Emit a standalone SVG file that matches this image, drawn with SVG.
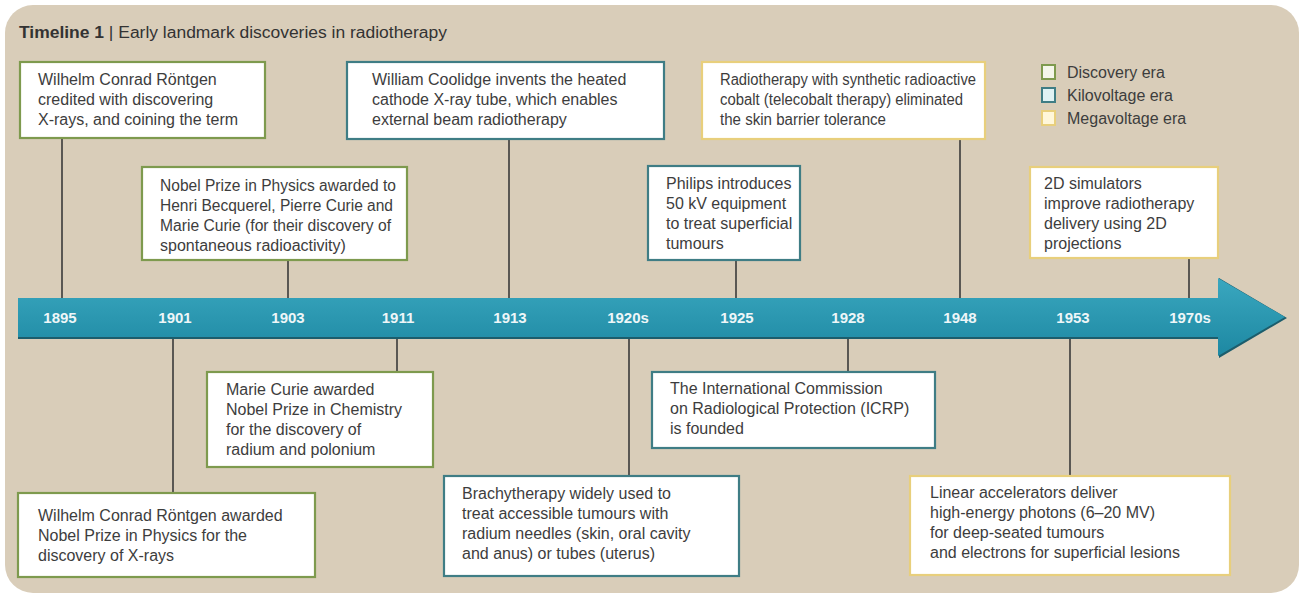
<svg xmlns="http://www.w3.org/2000/svg" width="1301" height="597" viewBox="0 0 1301 597">
<defs>
<style>
.box{fill:#ffffff;stroke-width:2.2}
.g{stroke:#7e9a4e}
.t{stroke:#3f7d85}
.y{stroke:#e8cf7c}
.tx{font-family:"Liberation Sans",Arial,sans-serif;font-size:16px;fill:#3d3d3d}
.yr{font-family:"Liberation Sans",Arial,sans-serif;font-size:15px;font-weight:bold;fill:#eef6f8;text-anchor:middle}
.ln{stroke:#3a3a3a;stroke-width:1.6;fill:none}
</style>
<linearGradient id="bar" x1="0" y1="0" x2="0" y2="1">
<stop offset="0" stop-color="#3aa7bf"/>
<stop offset="1" stop-color="#1d88a2"/>
</linearGradient>
</defs>
<rect x="0" y="0" width="1301" height="597" fill="#ffffff"/>
<rect x="5" y="5" width="1294" height="588" rx="28" ry="28" fill="#d9cdb9"/>
<text x="19" y="38" font-family="Liberation Sans,Arial,sans-serif" font-size="16" fill="#333" textLength="428" lengthAdjust="spacingAndGlyphs"><tspan font-weight="bold">Timeline 1</tspan> | Early landmark discoveries in radiotherapy</text>

<g id="connectors">
<line class="ln" x1="62" y1="138" x2="62" y2="300"/>
<line class="ln" x1="288" y1="260" x2="288" y2="300"/>
<line class="ln" x1="509" y1="139" x2="509" y2="300"/>
<line class="ln" x1="736" y1="260" x2="736" y2="300"/>
<line class="ln" x1="960" y1="139" x2="960" y2="300"/>
<line class="ln" x1="1189" y1="258" x2="1189" y2="300"/>
<line class="ln" x1="173" y1="338" x2="173" y2="493"/>
<line class="ln" x1="397" y1="338" x2="397" y2="372"/>
<line class="ln" x1="629" y1="338" x2="629" y2="476"/>
<line class="ln" x1="848" y1="338" x2="848" y2="372"/>
<line class="ln" x1="1070" y1="338" x2="1070" y2="476"/>
</g>

<g id="timeline">
<path d="M18 299 H1219 V278 L1287 318 L1219 358 V339 H18 Z" fill="#1c5d6c"/>
<path d="M18 298 H1218 V278 L1285 317 L1218 356 V337 H18 Z" fill="url(#bar)"/>
<text class="yr" x="60" y="323">1895</text>
<text class="yr" x="175" y="323">1901</text>
<text class="yr" x="288" y="323">1903</text>
<text class="yr" x="398" y="323">1911</text>
<text class="yr" x="510" y="323">1913</text>
<text class="yr" x="628" y="323">1920s</text>
<text class="yr" x="737" y="323">1925</text>
<text class="yr" x="848" y="323">1928</text>
<text class="yr" x="960" y="323">1948</text>
<text class="yr" x="1073" y="323">1953</text>
<text class="yr" x="1190" y="323">1970s</text>
</g>

<g id="n1895">
<rect class="box g" x="20" y="62" width="245" height="76"/>
<text class="tx" x="38" y="85">Wilhelm Conrad Röntgen</text>
<text class="tx" x="38" y="105">credited with discovering</text>
<text class="tx" x="38" y="125">X-rays, and coining the term</text>
</g>
<g id="n1903">
<rect class="box g" x="142" y="167" width="265" height="93"/>
<text class="tx" x="160" y="191" textLength="236" lengthAdjust="spacingAndGlyphs">Nobel Prize in Physics awarded to</text>
<text class="tx" x="160" y="211" textLength="233" lengthAdjust="spacingAndGlyphs">Henri Becquerel, Pierre Curie and</text>
<text class="tx" x="160" y="231" textLength="231" lengthAdjust="spacingAndGlyphs">Marie Curie (for their discovery of</text>
<text class="tx" x="160" y="251">spontaneous radioactivity)</text>
</g>
<g id="n1913">
<rect class="box t" x="347" y="62" width="317" height="77"/>
<text class="tx" x="372" y="85">William Coolidge invents the heated</text>
<text class="tx" x="372" y="105">cathode X-ray tube, which enables</text>
<text class="tx" x="372" y="125">external beam radiotherapy</text>
</g>
<g id="n1948">
<rect class="box y" x="702" y="62" width="283" height="77"/>
<text class="tx" x="720" y="85" textLength="256" lengthAdjust="spacingAndGlyphs">Radiotherapy with synthetic radioactive</text>
<text class="tx" x="720" y="105" textLength="243" lengthAdjust="spacingAndGlyphs">cobalt (telecobalt therapy) eliminated</text>
<text class="tx" x="720" y="125" textLength="166" lengthAdjust="spacingAndGlyphs">the skin barrier tolerance</text>
</g>
<g id="n1925">
<rect class="box t" x="648" y="166" width="152" height="94"/>
<text class="tx" x="666" y="189">Philips introduces</text>
<text class="tx" x="666" y="209">50 kV equipment</text>
<text class="tx" x="666" y="229">to treat superficial</text>
<text class="tx" x="666" y="249">tumours</text>
</g>
<g id="n1970s">
<rect class="box y" x="1030" y="167" width="188" height="91"/>
<text class="tx" x="1044" y="189">2D simulators</text>
<text class="tx" x="1044" y="209">improve radiotherapy</text>
<text class="tx" x="1044" y="229">delivery using 2D</text>
<text class="tx" x="1044" y="249">projections</text>
</g>
<g id="legend">
<rect x="1042" y="65" width="13" height="14" fill="#f4f6ea" stroke="#7e9a4e" stroke-width="2"/>
<rect x="1042" y="88" width="13" height="14" fill="#dff2f4" stroke="#3f7d85" stroke-width="2"/>
<rect x="1042" y="111" width="13" height="14" fill="#fff7da" stroke="#e8cf7c" stroke-width="2"/>
<text class="tx" x="1067" y="78">Discovery era</text>
<text class="tx" x="1067" y="101">Kilovoltage era</text>
<text class="tx" x="1067" y="124">Megavoltage era</text>
</g>
<g id="n1911">
<rect class="box g" x="207" y="372" width="226" height="95"/>
<text class="tx" x="226" y="395">Marie Curie awarded</text>
<text class="tx" x="226" y="415">Nobel Prize in Chemistry</text>
<text class="tx" x="226" y="435">for the discovery of</text>
<text class="tx" x="226" y="455">radium and polonium</text>
</g>
<g id="n1901">
<rect class="box g" x="18" y="493" width="297" height="84"/>
<text class="tx" x="38" y="521">Wilhelm Conrad Röntgen awarded</text>
<text class="tx" x="38" y="541">Nobel Prize in Physics for the</text>
<text class="tx" x="38" y="561">discovery of X-rays</text>
</g>
<g id="n1928">
<rect class="box t" x="652" y="372" width="283" height="76"/>
<text class="tx" x="670" y="394">The International Commission</text>
<text class="tx" x="670" y="414">on Radiological Protection (ICRP)</text>
<text class="tx" x="670" y="434">is founded</text>
</g>
<g id="n1920s">
<rect class="box t" x="444" y="476" width="295" height="100"/>
<text class="tx" x="462" y="499">Brachytherapy widely used to</text>
<text class="tx" x="462" y="519">treat accessible tumours with</text>
<text class="tx" x="462" y="539">radium needles (skin, oral cavity</text>
<text class="tx" x="462" y="559">and anus) or tubes (uterus)</text>
</g>
<g id="n1953">
<rect class="box y" x="910" y="476" width="320" height="99"/>
<text class="tx" x="930" y="498">Linear accelerators deliver</text>
<text class="tx" x="930" y="518">high-energy photons (6–20 MV)</text>
<text class="tx" x="930" y="538">for deep-seated tumours</text>
<text class="tx" x="930" y="558">and electrons for superficial lesions</text>
</g>
</svg>
